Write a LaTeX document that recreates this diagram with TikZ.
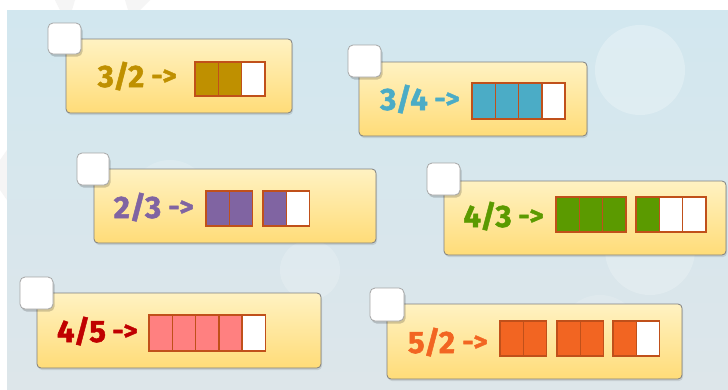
\documentclass[tikz,border=0pt]{standalone}
\usepackage{fontspec}
\setmainfont{Fira Sans}
\newfontfamily\heavyfont{Fira Sans}[BoldFeatures={FakeBold=1.6}]
\definecolor{cgold}{HTML}{BF9000}
\definecolor{cblue}{HTML}{4BACC6}
\definecolor{cpurple}{HTML}{8064A2}
\definecolor{cgreen}{HTML}{5B9A00}
\definecolor{cred}{HTML}{C00000}
\definecolor{cpink}{HTML}{FF8080}
\definecolor{corange}{HTML}{F26522}
\definecolor{cellline}{HTML}{C0501A}
\definecolor{cardtop}{HTML}{FFF2C2}
\definecolor{cardbot}{HTML}{FFDC78}
\definecolor{cardline}{HTML}{7F7F7F}
\definecolor{bgtop}{HTML}{D2E7EF}
\definecolor{bgbot}{HTML}{DDE6EA}
\definecolor{boxline}{HTML}{A6A6A6}
\tikzset{
  card/.style={draw=cardline, line width=0.8pt, rounded corners=4pt,
    top color=cardtop, bottom color=cardbot},
  checkbox/.style={draw=boxline, line width=0.8pt, fill=white, rounded corners=5pt},
  boxshadow/.style={fill=black, opacity=0.18, rounded corners=5pt},
  fractxt/.style={anchor=base, inner sep=0pt, font=\heavyfont\fontsize{31}{31}\selectfont\bfseries},
  arrtxt/.style={anchor=base, inner sep=0pt, font=\heavyfont\fontsize{27}{27}\selectfont\bfseries},
  cellbox/.style={draw=cellline, line width=1.6pt},
}
% #1 x0, #2 top y, #3 bottom y, #4 cells, #5 filled, #6 colour
\newcommand{\fracbars}[6]{%
  \foreach \i in {1,...,#4}{%
    \pgfmathsetmacro{\xa}{#1+(\i-1)*23.3}%
    \pgfmathsetmacro{\xb}{#1+\i*23.3}%
    \ifnum\i>#5\relax
      \fill[white] (\xa,#2) rectangle (\xb,#3);
    \else
      \fill[#6] (\xa,#2) rectangle (\xb,#3);
    \fi
  }%
  \foreach \i in {1,...,#4}{%
    \pgfmathsetmacro{\xa}{#1+(\i-1)*23.3}%
    \pgfmathsetmacro{\xb}{#1+\i*23.3}%
    \draw[cellbox] (\xa,#2) rectangle (\xb,#3);
  }%
}
\newcommand{\checkboxat}[4]{%
  \fill[boxshadow] (#1+1.5,#2+2.5) rectangle (#3+1.5,#4+2.5);
  \draw[checkbox] (#1,#2) rectangle (#3,#4);
}
\begin{document}
\begin{tikzpicture}[x=1pt,y=-1pt]
\useasboundingbox (0,0) rectangle (728,389);
\fill[white] (0,0) rectangle (728,389);
% faint watermark strokes in margins
\fill[black!4] (55,0) -- (75,0) -- (72,10) -- (60,10) -- cycle;
\fill[black!4] (125,0) -- (150,0) -- (140,10) -- (128,10) -- cycle;
\fill[black!4] (0,160) -- (7,150) -- (7,200) -- (0,190) -- cycle;
% background panel
\shade[top color=bgtop, bottom color=bgbot] (7,10) rectangle (728,389);
\fill[white, opacity=0.25] (640,70) circle (45);
\fill[white, opacity=0.2] (650,250) circle (45);
\fill[white, opacity=0.18] (310,270) circle (30);
\fill[white, opacity=0.15] (600,335) circle (40);
\fill[white, opacity=0.15] (170,200) circle (40);

% ---- card 1 : 3/2
\fill[black, opacity=0.10, rounded corners=4pt] (67,41) rectangle (293,115);
\draw[card] (66,39) rectangle (292,113);
\checkboxat{48}{23}{81}{54}
\node[fractxt, text=cgold] (f1) at (121,87) {3/2};
\node[arrtxt, text=cgold] (a1) at (164,85) {->};
\fracbars{195}{62}{96}{3}{2}{cgold}

% ---- card 2 : 3/4
\fill[black, opacity=0.10, rounded corners=4pt] (360,64) rectangle (588,138);
\draw[card] (359,62) rectangle (587,136);
\checkboxat{348}{45}{381}{77}
\node[fractxt, text=cblue] (f2) at (404,110) {3/4};
\node[arrtxt, text=cblue] (a2) at (447,108) {->};
\fracbars{472}{83}{119}{4}{3}{cblue}

% ---- card 3 : 2/3
\fill[black, opacity=0.10, rounded corners=4pt] (95,171) rectangle (377,245);
\draw[card] (94,169) rectangle (376,243);
\checkboxat{77}{153}{109}{185}
\node[fractxt, text=cpurple] (f3) at (137.5,218) {2/3};
\node[arrtxt, text=cpurple] (a3) at (181,216) {->};
\fracbars{206}{191}{226}{2}{2}{cpurple}
\fracbars{263}{191}{226}{2}{1}{cpurple}

% ---- card 4 : 4/3
\fill[black, opacity=0.10, rounded corners=4pt] (445,183) rectangle (727,257);
\draw[card] (444,181) rectangle (726,255);
\checkboxat{427}{163}{460}{195}
\node[fractxt, text=cgreen] (f4) at (487.5,227) {4/3};
\node[arrtxt, text=cgreen] (a4) at (531,225) {->};
\fracbars{556}{197}{232}{3}{3}{cgreen}
\fracbars{636}{197}{232}{3}{1}{cgreen}

% ---- card 5 : 4/5
\fill[black, opacity=0.10, rounded corners=4pt] (38,295) rectangle (322,370);
\draw[card] (37,293) rectangle (321,368);
\checkboxat{20}{277}{53}{309}
\node[fractxt, text=cred] (f5) at (81.5,342) {4/5};
\node[arrtxt, text=cred] (a5) at (125,340) {->};
\fracbars{149}{315}{351}{5}{4}{cpink}

% ---- card 6 : 5/2
\fill[black, opacity=0.10, rounded corners=4pt] (388,306) rectangle (683,381);
\draw[card] (387,304) rectangle (682,379);
\checkboxat{370}{288}{404}{321}
\node[fractxt, text=corange] (f6) at (431.5,353) {5/2};
\node[arrtxt, text=corange] (a6) at (475,351) {->};
\fracbars{500}{321}{356}{2}{2}{corange}
\fracbars{557}{321}{356}{2}{2}{corange}
\fracbars{613}{321}{356}{2}{1}{corange}
\end{tikzpicture}
\end{document}
